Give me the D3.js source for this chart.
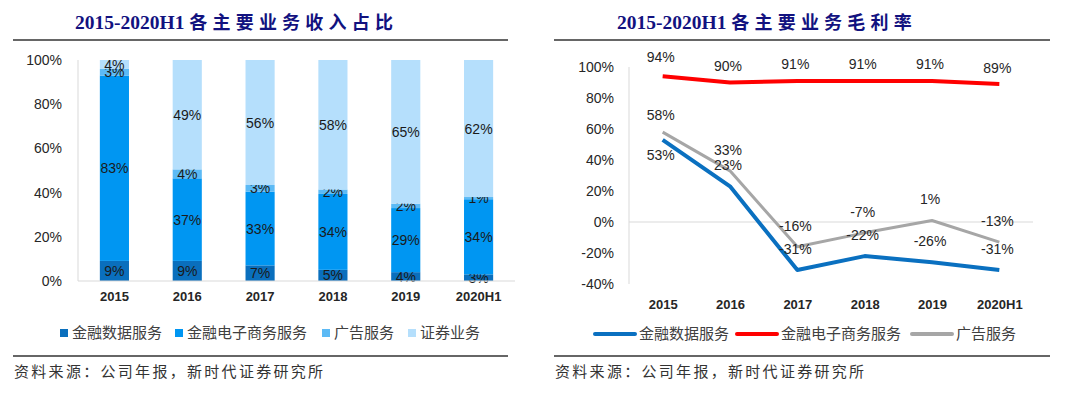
<!DOCTYPE html>
<html>
<head>
<meta charset="utf-8">
<script src="https://cdn.jsdelivr.net/npm/d3@7.9.0/dist/d3.min.js"></script>
<style>
  body { margin: 0; background: #fff; }
  svg { display: block; }
</style>
</head>
<body>
<svg id="chart" width="1080" height="395"></svg>
<script>
// Data
const years = ['2015', '2016', '2017', '2018', '2019', '2020H1'];

// revenue share (%) by business, left chart
const revSeries = ['金融数据服务', '金融电子商务服务', '广告服务', '证券业务'];
const revData = [9, 9, 7, 5, 4, 3];
const ecomRev = [83, 37, 33, 34, 29, 34];
const adRev = [3, 4, 3, 2, 2, 1];
const secRev = [4, 49, 56, 58, 65, 62];

// gross margin (%) by business, right chart
const marginSeries = ['金融数据服务', '金融电子商务服务', '广告服务'];
const dataMargin = [53, 23, -31, -22, -26, -31];
const ecomMargin = [94, 90, 91, 91, 91, 89];
const adMargin = [58, 33, -16, -7, 1, -13];

const yTicksLeft = [0, 0.2, 0.4, 0.6, 0.8, 1];
const yTicksRight = [-40, -20, 0, 20, 40, 60, 80, 100];

const titleLeft = ['2015-2020H1 ', '各主要业务收入占比'];
const titleRight = ['2015-2020H1 ', '各主要业务毛利率'];
const sourceText = '资料来源：公司年报，新时代证券研究所';

const barColors = ['#0a6fbd', '#0096f2', '#5cbaf5', '#b5dffc'];
const lineColors = ['#0a70c0', '#ff0000', '#a6a6a6'];

const svg = d3.select('#chart');
const sans = '"Liberation Sans", Arial, sans-serif';
const cjk = '"Noto Sans CJK SC", sans-serif';
const textColor = '#262626';
const axisColor = '#d9d9d9';

function drawFrame(x0, x1, title, titleX) {
  const t = svg.append('text')
    .attr('x', titleX).attr('y', 29)
    .attr('fill', '#12127f')
    .attr('font-weight', 'bold');
  t.append('tspan').attr('font-family', '"Liberation Serif", serif').attr('font-size', 19.5).text(title[0]);
  t.append('tspan').attr('font-family', cjk).attr('font-size', 18).attr('letter-spacing', 5.2).text(title[1]);

  svg.append('line').attr('x1', x0).attr('x2', x1).attr('y1', 40).attr('y2', 40)
    .attr('stroke', '#333').attr('stroke-width', 1.3);
  svg.append('line').attr('x1', x0).attr('x2', x1).attr('y1', 356).attr('y2', 356)
    .attr('stroke', '#333').attr('stroke-width', 1.3);
  svg.append('text').attr('x', x0 + 1).attr('y', 377)
    .attr('font-family', cjk).attr('font-size', 15).attr('fill', '#333')
    .attr('letter-spacing', 2.3)
    .text(sourceText);
}

// ---------- Left: stacked 100% bars ----------
drawFrame(13, 508, titleLeft, 75);

const rows = years.map((y, i) => ({
  year: y,
  [revSeries[0]]: revData[i],
  [revSeries[1]]: ecomRev[i],
  [revSeries[2]]: adRev[i],
  [revSeries[3]]: secRev[i]
}));

const stack = d3.stack().keys(revSeries).offset(d3.stackOffsetExpand);
const stacked = stack(rows);

const xL = d3.scaleBand().domain(years).range([78, 515]).paddingInner(0.6).paddingOuter(0.3);
const yL = d3.scaleLinear().domain([0, 1]).range([281, 60]);

const gL = svg.append('g');
gL.append('line').attr('x1', 78).attr('x2', 78).attr('y1', yL(1)).attr('y2', yL(0)).attr('stroke', axisColor);

const layers = gL.selectAll('g.layer').data(stacked).join('g')
  .attr('class', 'layer')
  .attr('fill', (d, i) => barColors[i]);

layers.selectAll('rect').data(d => d).join('rect')
  .attr('x', d => xL(d.data.year))
  .attr('width', xL.bandwidth())
  .attr('y', d => yL(d[1]))
  .attr('height', d => yL(d[0]) - yL(d[1]));

layers.each(function (layer) {
  d3.select(this).selectAll('text').data(layer).join('text')
    .attr('x', d => xL(d.data.year) + xL.bandwidth() / 2)
    .attr('y', d => yL((d[0] + d[1]) / 2))
    .attr('dy', '0.36em')
    .attr('text-anchor', 'middle')
    .attr('font-family', sans).attr('font-size', 14)
    .attr('fill', '#1a1a1a')
    .text(d => d.data[layer.key] + '%');
});

gL.append('line').attr('x1', 78).attr('x2', 515).attr('y1', yL(0)).attr('y2', yL(0)).attr('stroke', axisColor);

const axL = d3.axisLeft(yL).tickValues(yTicksLeft).tickFormat(d3.format('.0%')).tickSize(0).tickPadding(16);
gL.append('g').attr('transform', 'translate(78,0)').call(axL)
  .call(g => g.select('.domain').remove())
  .selectAll('text').attr('font-family', sans).attr('font-size', 14).attr('fill', textColor);

const axBL = d3.axisBottom(xL).tickSize(0).tickPadding(11);
gL.append('g').attr('transform', 'translate(0,' + yL(0) + ')').call(axBL)
  .call(g => g.select('.domain').remove())
  .selectAll('text').attr('font-family', sans).attr('font-size', 13).attr('font-weight', 'bold').attr('fill', textColor);

// legend left
const legL = svg.append('g').attr('transform', 'translate(60,333)');
const legLX = [0, 115, 262, 348];
revSeries.forEach((s, i) => {
  const g = legL.append('g').attr('transform', 'translate(' + legLX[i] + ',0)');
  g.append('rect').attr('x', 0).attr('y', -4).attr('width', 8).attr('height', 8).attr('fill', barColors[i]);
  g.append('text').attr('x', 12).attr('y', 0).attr('dy', '0.36em')
    .attr('font-family', cjk).attr('font-size', 15).attr('fill', '#404040').text(s);
});

// ---------- Right: lines ----------
drawFrame(554, 1050, titleRight, 617);

const xR = d3.scalePoint().domain(years).range([629, 1033]).padding(0.5);
const yR = d3.scaleLinear().domain([-40, 100]).range([284, 67]);

const gR = svg.append('g');
gR.append('line').attr('x1', 629).attr('x2', 629).attr('y1', yR(100)).attr('y2', yR(-40)).attr('stroke', axisColor);
gR.append('line').attr('x1', 629).attr('x2', 1033).attr('y1', yR(0)).attr('y2', yR(0)).attr('stroke', axisColor);

const axR = d3.axisLeft(yR).tickValues(yTicksRight).tickFormat(d => d + '%').tickSize(0).tickPadding(15);
gR.append('g').attr('transform', 'translate(629,0)').call(axR)
  .call(g => g.select('.domain').remove())
  .selectAll('text').attr('font-family', sans).attr('font-size', 14).attr('fill', textColor);

const axBR = d3.axisBottom(xR).tickSize(0).tickPadding(16);
gR.append('g').attr('transform', 'translate(0,' + yR(-40) + ')').call(axBR)
  .call(g => g.select('.domain').remove())
  .selectAll('text').attr('font-family', sans).attr('font-size', 13).attr('font-weight', 'bold').attr('fill', textColor);

const lineSets = [dataMargin, ecomMargin, adMargin];
const widths = [4, 4, 3];
const line = d3.line().x((d, i) => xR(years[i])).y(d => yR(d));

// draw gray first, then blue, then red on top
[2, 0, 1].forEach(k => {
  gR.append('path').datum(lineSets[k])
    .attr('d', line)
    .attr('fill', 'none')
    .attr('stroke', lineColors[k])
    .attr('stroke-width', widths[k])
    .attr('stroke-linejoin', 'round');
});

lineSets.forEach((vals, k) => {
  gR.append('g').selectAll('text').data(vals).join('text')
    .attr('x', (d, i) => xR(years[i]) - 2)
    .attr('y', (d, i) => {
      // first blue label sits below its point
      if (k === 0 && i === 0) return yR(d) + 15;
      if (k === 1) return yR(d) - 16 - (d - 89) * 0.6;
      return yR(d) - (k === 2 && i === 0 ? 17 : 21);
    })
    .attr('dy', '0.36em')
    .attr('text-anchor', 'middle')
    .attr('font-family', sans).attr('font-size', 14)
    .attr('fill', textColor)
    .text(d => d + '%');
});

// legend right
const legR = svg.append('g').attr('transform', 'translate(595,334)');
const legRX = [0, 142, 317];
marginSeries.forEach((s, i) => {
  const g = legR.append('g').attr('transform', 'translate(' + legRX[i] + ',0)');
  g.append('line').attr('x1', 0).attr('x2', 40).attr('y1', 0).attr('y2', 0)
    .attr('stroke', lineColors[i]).attr('stroke-width', 4).attr('stroke-linecap', 'round');
  g.append('text').attr('x', 44).attr('y', 0).attr('dy', '0.36em')
    .attr('font-family', cjk).attr('font-size', 15).attr('fill', '#404040').text(s);
});
</script>
</body>
</html>
